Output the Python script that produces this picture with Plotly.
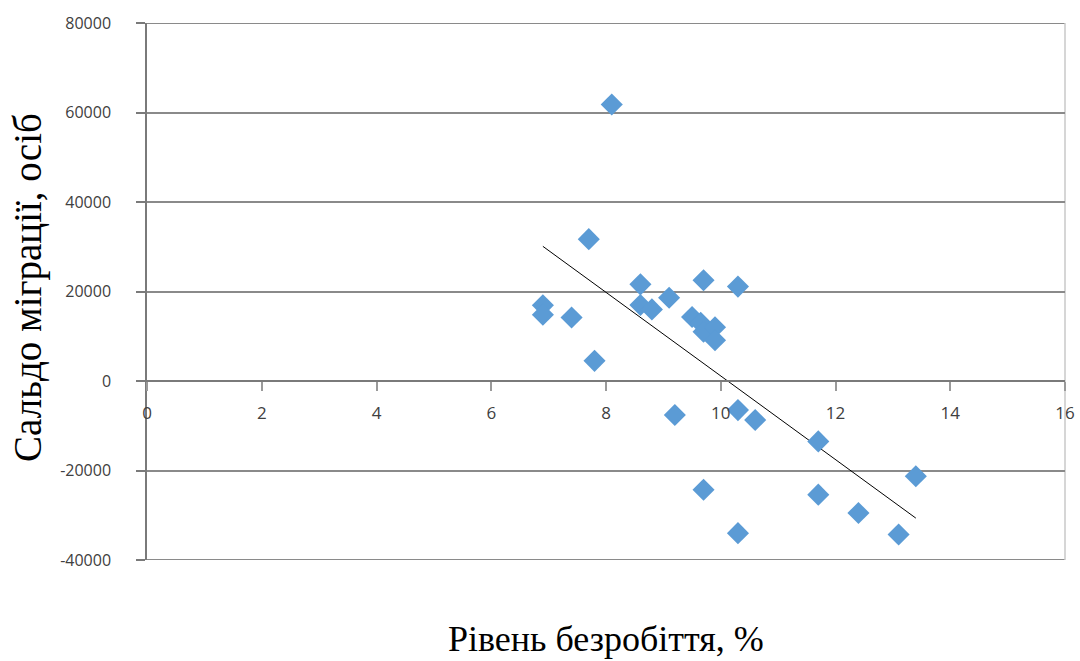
import numpy as np
import plotly.graph_objects as go

unemployment = [8.1, 7.7, 6.9, 6.9, 7.4, 7.8, 8.6, 8.6, 8.8, 9.1, 9.7, 10.3,
                9.5, 9.65, 9.7, 9.9, 9.9, 9.2, 10.3, 10.6, 11.7, 13.4, 9.7,
                11.7, 12.4, 10.3, 13.1]
migration = [61800, 31700, 16900, 14800, 14200, 4500, 21600, 17000, 16000,
             18600, 22500, 21100, 14300, 13000, 11000, 12000, 9100, -7600,
             -6500, -8700, -13500, -21300, -24300, -25400, -29500, -34000,
             -34300]

x_ticks = [0, 2, 4, 6, 8, 10, 12, 14, 16]
y_ticks = [-40000, -20000, 0, 20000, 40000, 60000, 80000]

xa = np.array(unemployment)
ya = np.array(migration)
slope, intercept = np.polyfit(xa, ya, 1)
tx = np.array([xa.min(), xa.max()])
ty = slope * tx + intercept

GRID = "#8a8a8a"
AXIS = "#7a7a7a"
W, H = 1080, 661
L, R, T, B = 147, 15, 23, 101
PW, PH = W - L - R, H - T - B

fig = go.Figure()
fig.add_trace(go.Scatter(x=list(tx), y=list(ty), mode="lines",
                         line=dict(color="#000000", width=1), showlegend=False,
                         hoverinfo="skip"))
fig.add_trace(go.Scatter(x=unemployment, y=migration, mode="markers",
                         marker=dict(symbol="diamond", size=17, color="#5B9BD5",
                                     line=dict(width=0)),
                         showlegend=False))

ymin, ymax = y_ticks[0], y_ticks[-1]
zero_pos = (0 - ymin) / (ymax - ymin)

fig.update_layout(
    width=W, height=H,
    margin=dict(l=L, r=R, t=T, b=B, autoexpand=False),
    paper_bgcolor="white", plot_bgcolor="white",
    xaxis=dict(range=[x_ticks[0], x_ticks[-1]], tickvals=x_ticks,
               ticktext=[str(v) for v in x_ticks],
               showgrid=False, zeroline=False, showline=True, linecolor=AXIS,
               linewidth=2, anchor="free", position=zero_pos,
               ticks="outside", ticklen=9, tickcolor="#9a9a9a", tickwidth=1.5,
               ticklabelstandoff=8, automargin=False,
               tickfont=dict(family="Open Sans, sans-serif", size=17, color="#404040")),
    yaxis=dict(range=[ymin, ymax], tickvals=y_ticks, ticktext=[str(v) for v in y_ticks],
               showgrid=True, gridcolor=GRID, gridwidth=1.5,
               zeroline=True, zerolinecolor=AXIS, zerolinewidth=2,
               showline=True, linecolor=AXIS, linewidth=1.5,
               ticks="outside", ticklen=9, tickcolor=AXIS, tickwidth=1.5,
               ticklabelstandoff=22, automargin=False,
               tickfont=dict(family="Open Sans, sans-serif", size=16, color="#404040")),
)

# grid lines at the range ends (plotly omits those) and the light right border
for yv in (ymin, ymax):
    fig.add_shape(type="line", xref="paper", yref="y", x0=0, x1=1, y0=yv, y1=yv,
                  line=dict(color=GRID, width=2), layer="below")
fig.add_shape(type="line", xref="paper", yref="paper", x0=1, x1=1, y0=0, y1=1,
              line=dict(color="#c8c8c8", width=1.5), layer="below")

fig.add_annotation(text="Рівень безробіття, %", xref="paper", yref="paper",
                   x=(606 - L) / PW, y=-(639 - (H - B)) / PH,
                   xanchor="center", yanchor="middle", showarrow=False,
                   font=dict(family="Liberation Serif, Times New Roman, serif",
                             size=36, color="#000000"))
fig.add_annotation(text="Сальдо міграції, осіб", xref="paper", yref="paper",
                   x=(28 - L) / PW, y=((H - B) - 288) / PH,
                   xanchor="center", yanchor="middle",
                   textangle=-90, showarrow=False,
                   font=dict(family="Liberation Serif, Times New Roman, serif",
                             size=39, color="#000000"))

fig.write_html("out.html", config={"displayModeBar": False},
               post_script="document.body.style.margin='0';")
